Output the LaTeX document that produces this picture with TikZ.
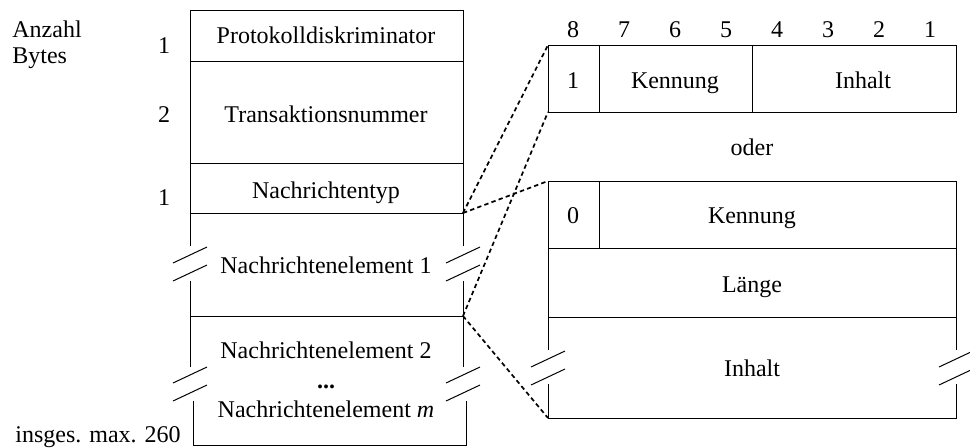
\documentclass[tikz,border=0pt]{standalone}
\usepackage{fontspec}
\setmainfont{Liberation Serif}

\begin{document}
\begin{tikzpicture}[x=0.5pt, y=-0.5pt,
		font=\fontsize{12}{14}\selectfont,
		txt/.style={anchor=base, inner sep=0pt},
		frame/.style={line width=0.5pt},
		zoomline/.style={line width=0.85pt, dash pattern=on 2.2pt off 1.6pt},
	]
	\useasboundingbox (0,0) rectangle (970,447);

	% Nachricht (links)
	\draw[frame] (190,246) -- (190,10) -- (463,10) -- (463,246);
	\draw[frame] (190,61) -- (463,61) (190,163) -- (463,163)
	(190,213) -- (463,213) (190,316) -- (463,316);
	\draw[frame] (190,281) -- (190,367) (463,281) -- (463,367);
	\draw[frame] (193,401) -- (193,445) -- (466,445) -- (466,401);

	\coordinate (typ-se) at (463,213);
	\coordinate (elem-se) at (463,316);

	\node[txt, anchor=base west] (anzahl) at (12,37) {Anzahl};
	\node[txt, anchor=base west] (bytes) at (12,63) {Bytes};
	\node[txt] (n-proto) at (164,53) {1};
	\node[txt] (n-trans) at (164,122) {2};
	\node[txt] (n-typ) at (164,205) {1};
	\node[txt, anchor=base west] (gesamt) at (15,442) {insges. max. 260};

	\node[txt] (proto) at (326,43) {Protokolldiskriminator};
	\node[txt] (trans) at (326,122) {Transaktionsnummer};
	\node[txt] (typ) at (326,198) {Nachrichtentyp};
	\node[txt] (elem1) at (326,273) {Nachrichtenelement 1};
	\node[txt] (elem2) at (326,358) {Nachrichtenelement 2};
	\node[txt] (dots) at (326,388) {\textbf{...}};
	\node[txt] (elemm) at (326,417) {Nachrichtenelement \textit{m}};

	% Elementformate (rechts)
	\foreach \b in {1,...,8}
	\node[txt] (bit\b) at ({573+51*(8-\b)},37) {\b};

	\draw[frame] (548,45) rectangle (956,112);
	\draw[frame] (599,45) -- (599,112) (752,45) -- (752,112);
	\coordinate (okt1-nw) at (548,45);
	\coordinate (okt1-sw) at (548,112);

	\node[txt] (kz1) at (573,88) {1};
	\node[txt] (kenn1) at (675,88) {Kennung};
	\node[txt] (inh1) at (863,88) {Inhalt};

	\node[txt] (oder) at (752,155) {oder};

	\draw[frame] (548,350) -- (548,181) -- (956,181) -- (956,350);
	\draw[frame] (548,384) -- (548,418) -- (956,418) -- (956,384);
	\draw[frame] (548,248) -- (956,248) (548,317) -- (956,317);
	\draw[frame] (599,181) -- (599,248);
	\coordinate (okt2-nw) at (548,181);
	\coordinate (okt2-sw) at (548,418);

	\node[txt] (kz0) at (573,223) {0};
	\node[txt] (kenn2) at (752,223) {Kennung};
	\node[txt] (laenge) at (752,292) {Länge};
	\node[txt] (inh2) at (752,376) {Inhalt};

	% Bruchstellen
	\foreach \cx/\cy in {190/263, 463/263, 190/383, 463/383, 548/367, 956/367}
	\draw[frame] (\cx-17,\cy) -- (\cx+17,\cy-16)
	(\cx-17,\cy+18) -- (\cx+17,\cy+2);

	% Zuordnung
	\draw[zoomline] (typ-se) -- (okt1-nw);
	\draw[zoomline] (typ-se) -- (okt2-nw);
	\draw[zoomline] (elem-se) -- (okt1-sw);
	\draw[zoomline] (elem-se) -- (okt2-sw);

\end{tikzpicture}
\end{document}
